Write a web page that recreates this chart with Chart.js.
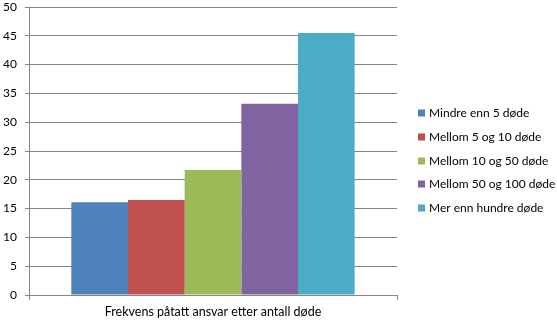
<!DOCTYPE html>
<html>
<head>
<meta charset="utf-8">
<script src="https://cdn.jsdelivr.net/npm/chart.js@4"></script>
<style>
  html, body { margin: 0; padding: 0; background: #fff; }
  #wrap { width: 557px; height: 325px; }
</style>
</head>
<body>
<div id="wrap"><canvas id="chart"></canvas></div>
<script>
// Data
const categories = ['Frekvens påtatt ansvar etter antall døde'];
const seriesNames = ['Mindre enn 5 døde', 'Mellom 5 og 10 døde', 'Mellom 10 og 50 døde', 'Mellom 50 og 100 døde', 'Mer enn hundre døde'];
const seriesValues = [16.1, 16.5, 21.7, 33.2, 45.5];
const seriesColors = ['#4f81bd', '#c0504d', '#9bbb59', '#8064a2', '#4bacc6'];
const yTicks = { min: 0, max: 50, step: 5 };

const gridColor = '#868686';
const fontFamily = "Lato, 'Open Sans', sans-serif";

const datasets = seriesNames.map((name, i) => ({
    label: name,
    data: [seriesValues[i]],
    backgroundColor: seriesColors[i],
    borderWidth: 0,
    barPercentage: 1,
    categoryPercentage: 0.77
}));

// Excel-style legend on the right, drawn next to the plot area
const sideLegend = {
    id: 'sideLegend',
    afterDraw(chart) {
        const ctx = chart.ctx;
        const items = chart.data.datasets;
        const rowGap = 23.8;
        const x = chart.chartArea.right + 21;
        const y0 = 113;
        ctx.save();
        ctx.font = '12px ' + fontFamily;
        ctx.textBaseline = 'middle';
        items.forEach((ds, i) => {
            const y = Math.round(y0 + i * rowGap);
            ctx.fillStyle = ds.backgroundColor;
            ctx.fillRect(x, y - 3.5, 7, 7);
            ctx.fillStyle = '#000';
            ctx.fillText(ds.label, x + 11, y + 0.5);
        });
        ctx.restore();
    }
};

new Chart(document.getElementById('chart'), {
    type: 'bar',
    data: { labels: categories, datasets: datasets },
    options: {
        responsive: true,
        maintainAspectRatio: false,
        animation: false,
        layout: { padding: { top: 0, right: 160, left: 0, bottom: 0 } },
        plugins: {
            tooltip: { enabled: false },
            legend: { display: false }
        },
        scales: {
            x: {
                grid: { display: true, drawOnChartArea: false, offset: true, color: gridColor, tickLength: 5 },
                border: { color: gridColor },
                ticks: { color: '#000', padding: 4, font: { family: fontFamily, size: 12.5 } },
                afterFit(scale) {
                    scale.paddingLeft = 0;
                    scale.paddingRight = 0;
                    scale.height = 30;
                }
            },
            y: {
                min: yTicks.min,
                max: yTicks.max,
                grid: { color: gridColor, tickLength: 4 },
                border: { color: gridColor },
                ticks: { stepSize: yTicks.step, color: '#000', padding: 8, font: { family: fontFamily, size: 12 } },
                afterFit(scale) {
                    scale.width = 29;
                    scale.paddingTop = 7;
                    scale.paddingBottom = 0;
                }
            }
        }
    },
    plugins: [sideLegend]
});
</script>
</body>
</html>
